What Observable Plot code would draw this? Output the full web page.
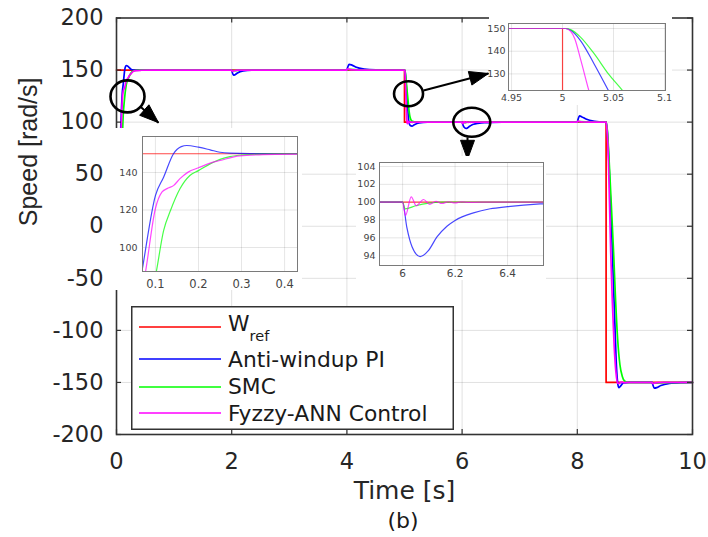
<!DOCTYPE html>
<html><head><meta charset="utf-8">
<script src="https://cdn.jsdelivr.net/npm/d3@7"></script>
<script src="https://cdn.jsdelivr.net/npm/@observablehq/plot@0.6"></script>
<style>
body{margin:0;background:#fff}
#wrap{position:relative;width:708px;height:537px;overflow:hidden;background:#fff}
#wrap > svg, #wrap > div{position:absolute}
</style></head><body><div id="wrap"></div>
<script>
// ---------------- data ----------------
const seriesNames = ["W_ref", "Anti-windup PI", "SMC", "Fyzzy-ANN Control"];
const seriesColors = ["#ff0000", "#0000ff", "#00ff00", "#ff00ff"];

const wRef = [[0,150],[5,150],[5,100],[8.5,100],[8.5,-150],[10,-150]];

const antiWindupPI = [[0,0],[0.03,37],[0.069,87.7],[0.1,127.7],[0.119,137.5],[0.142,150],[0.16,153.8],[0.173,154.4],[0.2,153.5],[0.227,152.1],[0.25,150.8],[0.273,150.3],[0.32,150.05],[0.5,150],
 [2.0,150],[2.01,148],[2.03,145],[2.06,145.6],[2.1,147.2],[2.2,149.2],[2.35,149.9],[2.6,150],
 [4.0,150],[4.01,152],[4.04,155.5],[4.08,155],[4.15,153],[4.3,151],[4.5,150.2],[4.8,150],
 [5.003,150],[5.008,149.2],[5.0176,144.7],[5.031,134.4],[5.045,122.7],[5.06,110],[5.075,100.5],[5.1,96.8],[5.13,96.2],[5.17,97.5],[5.25,99.3],[5.4,100],
 [6,100],[6.016,97.2],[6.036,95],[6.067,93.9],[6.099,94.6],[6.131,96.1],[6.169,97.3],[6.2,97.95],[6.27,98.8],[6.334,99.26],[6.4,99.5],[6.524,99.8],[6.7,99.95],[7,100],
 [8,100],[8.01,102],[8.04,106],[8.08,105],[8.15,103],[8.3,100.8],[8.45,100],
 [8.5,100],[8.52,92],[8.55,60],[8.6,-10],[8.65,-90],[8.68,-135],[8.7,-150],[8.72,-155],[8.75,-153.5],[8.8,-150.5],[8.9,-150],
 [9.3,-150],[9.31,-152],[9.34,-155.5],[9.38,-155],[9.45,-153],[9.6,-151],[9.8,-150.2],[10,-150]];

const smc = [[0,0],[0.03,12],[0.06,45],[0.08,62],[0.102,87],[0.119,109],[0.135,119.7],[0.157,131.3],[0.18,138.4],[0.2,141],[0.227,144.6],[0.25,147],[0.273,148.5],[0.32,149.6],[0.4,150],[0.5,150],
 [2,150],[2.01,149.5],[2.05,149.4],[2.15,149.9],[2.3,150],
 [4,150],[4.01,150.5],[4.05,150.6],[4.2,150.1],[4.3,150],
 [5.003,150],[5.008,149.5],[5.0176,146.2],[5.031,138.9],[5.045,130],[5.0588,122.7],[5.075,113],[5.09,106.5],[5.11,102.5],[5.14,100.7],[5.2,100.1],[5.3,100],
 [6,100],[6.01,99.25],[6.05,99.6],[6.1,99.9],[6.15,100],
 [8,100],[8.01,100.5],[8.05,100.6],[8.2,100.1],[8.3,100],
 [8.5,100],[8.52,93],[8.56,55],[8.6,10],[8.63,-25],[8.66,-65],[8.7,-108],[8.74,-133],[8.78,-144],[8.82,-148.5],[8.88,-150],
 [9.3,-150],[9.31,-150.5],[9.35,-150.6],[9.5,-150.1],[10,-150]];

const fuzzyAnn = [[0,0],[0.02,22],[0.05,55],[0.077,87],[0.1,120.8],[0.115,129.5],[0.127,131.4],[0.142,133],[0.157,136.7],[0.176,140.2],[0.2,142.5],[0.227,145],[0.25,146.4],[0.296,148.9],[0.35,149.5],[0.43,149.8],[0.6,150],
 [2,150],[2.01,148.8],[2.04,149.3],[2.1,149.9],[2.2,150],
 [4,150],[4.01,151.2],[4.04,150.6],[4.1,150.1],[4.2,150],
 [5.003,150],[5.008,148.7],[5.012,145.5],[5.0176,136.6],[5.0258,122.7],[5.034,110],[5.042,101],[5.05,98.5],[5.065,100.8],[5.085,99.5],[5.105,100.3],[5.13,99.8],[5.16,100.1],[5.2,100],
 [6,100],[6.011,98.5],[6.033,100.6],[6.052,99.6],[6.08,100.3],[6.103,99.75],[6.127,100.1],[6.15,99.85],[6.175,100.05],[6.2,99.92],[6.225,100.03],[6.25,99.97],[6.3,100],
 [8,100],[8.01,101],[8.04,100.5],[8.1,100.1],[8.2,100],
 [8.5,100],[8.51,96],[8.53,80],[8.56,20],[8.58,-25],[8.61,-75],[8.64,-115],[8.67,-140],[8.7,-150.5],[8.73,-151],[8.76,-149.6],[8.8,-150.2],[8.85,-150],
 [9.3,-150],[9.31,-151.2],[9.34,-150.6],[9.4,-150.1],[9.5,-150],[10,-150]];

const allSeries = [wRef, antiWindupPI, smc, fuzzyAnn];

const xDomain = [0, 10];
const yDomain = [-200, 200];
const xTicks = [0, 2, 4, 6, 8, 10];
const yTicks = [-200, -150, -100, -50, 0, 50, 100, 150, 200];

const inset1XDomain = [4.947, 5.101], inset1YDomain = [122.7, 152.2];
const inset1XTicks = [4.95, 5, 5.05, 5.1], inset1YTicks = [130, 140, 150];
const inset2XDomain = [0.07, 0.43], inset2YDomain = [87.2, 159.2];
const inset2XTicks = [0.1, 0.2, 0.3, 0.4], inset2YTicks = [100, 120, 140];
const inset3XDomain = [5.912, 6.537], inset3YDomain = [92.9, 104.45];
const inset3XTicks = [6, 6.2, 6.4], inset3YTicks = [94, 96, 98, 100, 102, 104];

// annotation anchors (data units): zoom circles and arrows (from -> tip)
const zoomCircles = [[0.191, 124.7], [5.07, 127.3], [6.168, 99.9]];
const arrowLinks = [[0.417, 114.8, 0.729, 99.5], [5.33, 130.4, 6.458, 146.7], [6.094, 85.4, 6.094, 64.3]];

// ---------------- layout ----------------
const W = 708, H = 505, mL = 116, mR = 16, mT = 17.5, mB = 71;
const pxPerX = (W - mL - mR) / (xDomain[1] - xDomain[0]);
const pxPerY = (H - mT - mB) / (yDomain[1] - yDomain[0]);
const frameColor = "#333333";
const font = "DejaVu Sans";

function ellipseSymbol(rx, ry) {
  return {draw(ctx) {
    const k = 0.5523;
    ctx.moveTo(rx, 0);
    ctx.bezierCurveTo(rx, ry * k, rx * k, ry, 0, ry);
    ctx.bezierCurveTo(-rx * k, ry, -rx, ry * k, -rx, 0);
    ctx.bezierCurveTo(-rx, -ry * k, -rx * k, -ry, 0, -ry);
    ctx.bezierCurveTo(rx * k, -ry, rx, -ry * k, rx, 0);
    ctx.closePath();
  }};
}
function headSymbol(ux, uy, L, Wd) {
  return {draw(ctx) {
    const bx = -L * ux, by = -L * uy, px = -uy, py = ux;
    ctx.moveTo(0, 0);
    ctx.lineTo(bx + px * Wd / 2, by + py * Wd / 2);
    ctx.lineTo(bx - px * Wd / 2, by - py * Wd / 2);
    ctx.closePath();
  }};
}
const ellipseSizes = [[17, 16], [14.5, 12.5], [18.5, 14.5]];

const lineMarks = (opts) => allSeries.map((s, i) => Plot.line(s, {
  x: d => d[0], y: d => d[1], stroke: seriesColors[i],
  curve: i === 0 ? "linear" : "monotone-x", ...opts
}));

const tlx = 5 / pxPerX, tly = 5 / pxPerY;

const annotationMarks = [];
zoomCircles.forEach((c, i) => {
  annotationMarks.push(Plot.dot([c], {x: d => d[0], y: d => d[1], r: 10,
    symbol: ellipseSymbol(ellipseSizes[i][0], ellipseSizes[i][1]), fill: "none", stroke: "black", strokeWidth: 2.6}));
});
arrowLinks.forEach((a) => {
  const dx = (a[2] - a[0]) * pxPerX, dy = -(a[3] - a[1]) * pxPerY;
  const n = Math.hypot(dx, dy);
  annotationMarks.push(Plot.link([a], {x1: d => d[0], y1: d => d[1], x2: d => d[2], y2: d => d[3], stroke: "black", strokeWidth: 2}));
  annotationMarks.push(Plot.dot([a], {x: d => d[2], y: d => d[3], r: 10,
    symbol: headSymbol(dx / n, dy / n, 19, 14), fill: "black", stroke: "black", strokeWidth: 1}));
});

const main = Plot.plot({
  width: W, height: H, marginLeft: mL, marginRight: mR, marginTop: mT, marginBottom: mB,
  x: {domain: xDomain}, y: {domain: yDomain},
  style: {fontFamily: font, background: "white", overflow: "visible", color: "#262626"},
  marks: [
    Plot.gridX(xTicks.slice(1, -1), {stroke: "#000", strokeOpacity: 0.12, strokeWidth: 1}),
    Plot.gridY(yTicks.slice(1, -1), {stroke: "#000", strokeOpacity: 0.12, strokeWidth: 1}),
    ...lineMarks({strokeWidth: 1.7}),
    Plot.ruleX(xTicks, {x: d => d, y1: yDomain[0], y2: yDomain[0] + tly, stroke: frameColor, strokeWidth: 1.2}),
    Plot.ruleX(xTicks, {x: d => d, y1: yDomain[1], y2: yDomain[1] - tly, stroke: frameColor, strokeWidth: 1.2}),
    Plot.ruleY(yTicks, {y: d => d, x1: xDomain[0], x2: xDomain[0] + tlx, stroke: frameColor, strokeWidth: 1.2}),
    Plot.ruleY(yTicks, {y: d => d, x1: xDomain[1], x2: xDomain[1] - tlx, stroke: frameColor, strokeWidth: 1.2}),
    Plot.frame({stroke: frameColor, strokeWidth: 1.6}),
    Plot.axisX(xTicks, {tickSize: 0, tickPadding: 19, fontSize: 22.5, label: null, tickFormat: d => String(d)}),
    Plot.axisY(yTicks, {tickSize: 0, tickPadding: 13, fontSize: 22.5, label: null, tickFormat: d => String(d)}),
    Plot.text(["Time [s]"], {text: d => d, frameAnchor: "bottom", dy: 64, fontSize: 25, fill: "#262626"}),
    Plot.text(["Speed [rad/s]"], {text: d => d, frameAnchor: "left", dx: -88, rotate: -90, fontSize: 25, fontFamily: "Liberation Sans", fill: "#262626"}),
    ...annotationMarks
  ]
});
const wrap = document.getElementById("wrap");
main.style.left = "0px"; main.style.top = "0px";
wrap.appendChild(main);

// ---------------- insets ----------------
function inset(cfg) {
  const svg = Plot.plot({
    width: cfg.w, height: cfg.h,
    marginLeft: cfg.ml, marginRight: cfg.mr, marginTop: cfg.mt, marginBottom: cfg.mb,
    x: {domain: cfg.xd}, y: {domain: cfg.yd},
    style: {fontFamily: font, background: "white", overflow: "visible", color: "#444"},
    marks: [
      Plot.gridX(cfg.xt, {stroke: "#000", strokeOpacity: 0.1}),
      Plot.gridY(cfg.yt, {stroke: "#000", strokeOpacity: 0.1}),
      ...lineMarks({strokeWidth: 1.2, strokeOpacity: 0.72, clip: true}),
      Plot.frame({stroke: "#7a7a7a", strokeWidth: 1}),
      Plot.axisX(cfg.xt, {tickSize: 0, tickPadding: cfg.xp, fontSize: cfg.xf, label: null, tickFormat: d => String(d)}),
      Plot.axisY(cfg.yt, {tickSize: 0, tickPadding: cfg.yp, fontSize: cfg.yf, label: null, tickFormat: d => String(d)})
    ]
  });
  svg.style.left = cfg.left + "px"; svg.style.top = cfg.top + "px";
  wrap.appendChild(svg);
}
inset({left: 489, top: 17, w: 183, h: 88, ml: 19, mr: 7, mt: 6, mb: 15,
  xd: inset1XDomain, yd: inset1YDomain, xt: inset1XTicks, yt: inset1YTicks, xp: 4, yp: 3, xf: 9.5, yf: 9.5});
inset({left: 114, top: 128, w: 188, h: 162, ml: 28, mr: 5, mt: 8, mb: 19,
  xd: inset2XDomain, yd: inset2YDomain, xt: inset2XTicks, yt: inset2YTicks, xp: 8, yp: 5, xf: 11.5, yf: 9.5});
inset({left: 356, top: 156, w: 190, h: 124, ml: 23, mr: 3, mt: 6, mb: 15,
  xd: inset3XDomain, yd: inset3YDomain, xt: inset3XTicks, yt: inset3YTicks, xp: 4, yp: 4, xf: 10.5, yf: 9.5});

// ---------------- legend ----------------
const leg = d3.select(wrap).append("svg").style("left", "131px").style("top", "306px")
  .attr("width", 323).attr("height", 124).style("overflow", "visible");
leg.append("rect").attr("x", 0.75).attr("y", 0.75).attr("width", 321.5).attr("height", 122.5)
  .attr("fill", "white").attr("stroke", frameColor).attr("stroke-width", 1.5);
const rowY = [21, 53, 81, 107];
const baseY = [25, 61, 88, 115];
seriesNames.forEach((name, i) => {
  leg.append("line").attr("x1", 8).attr("x2", 90).attr("y1", rowY[i]).attr("y2", rowY[i])
    .attr("stroke", seriesColors[i]).attr("stroke-width", 1.5);
  const t = leg.append("text").attr("x", 97).attr("y", baseY[i]).attr("font-family", font)
    .attr("font-size", 21.8).attr("fill", "#1a1a1a");
  if (name === "W_ref") {
    t.append("tspan").text("W");
    t.append("tspan").attr("dy", 10).attr("font-size", 14.5).text("ref");
  } else t.text(name);
});

// ---------------- caption ----------------
const cap = document.createElement("div");
cap.textContent = "(b)";
Object.assign(cap.style, {left: "353px", top: "507px", width: "100px", textAlign: "center",
  fontFamily: font, fontSize: "22px", lineHeight: "28px", color: "#1a1a1a"});
wrap.appendChild(cap);
</script></body></html>
